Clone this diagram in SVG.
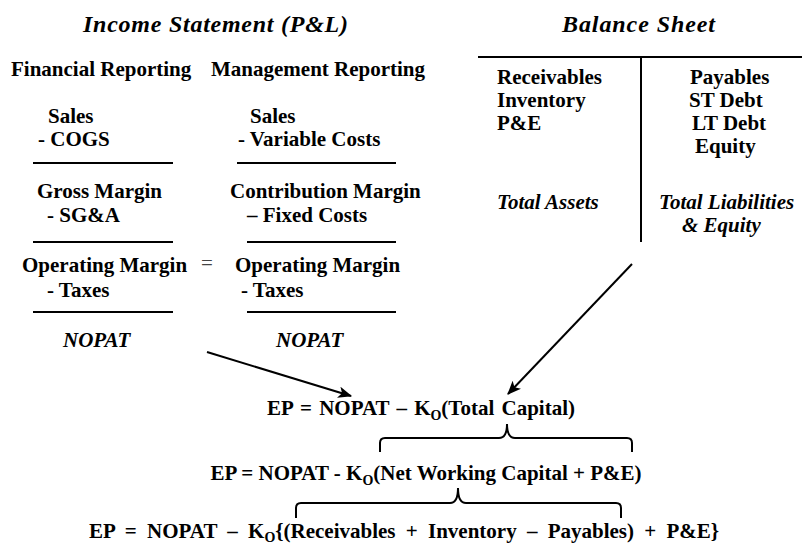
<svg xmlns="http://www.w3.org/2000/svg" width="802" height="544" viewBox="0 0 802 544">
<style>
text{font-family:"Liberation Serif","Times New Roman",serif;font-weight:bold;font-size:21px;fill:#000}
.t{font-style:italic;font-size:24px}
.i{font-style:italic}
.ln{stroke:#000;stroke-width:2;fill:none}
.ar{stroke:#000;stroke-width:2;fill:none;marker-end:url(#ah)}
.sub{font-size:14px}
</style>
<defs>
<marker id="ah" viewBox="0 0 12 10" refX="11" refY="5" markerWidth="7" markerHeight="6" orient="auto" markerUnits="strokeWidth">
<path d="M0,0 L12,5 L0,10 L3,5 Z" fill="#000"/>
</marker>
</defs>
<rect width="802" height="544" fill="#fff"/>
<g id="income-statement">
<text class="t" x="83" y="32" textLength="265" lengthAdjust="spacing">Income Statement (P&amp;L)</text>
</g>
<g id="financial-reporting">
<text x="11" y="76">Financial Reporting</text>
<text x="48" y="123">Sales</text>
<text x="38" y="146">- COGS</text>
<line class="ln" x1="33" y1="163" x2="173" y2="163"/>
<text x="37" y="198">Gross Margin</text>
<text x="47" y="222">- SG&amp;A</text>
<line class="ln" x1="33" y1="242" x2="173" y2="242"/>
<text x="22" y="272">Operating Margin</text>
<text x="47" y="297">- Taxes</text>
<line class="ln" x1="33" y1="312" x2="173" y2="312"/>
<text class="i" x="63" y="347">NOPAT</text>
</g>
<g id="equals">
<text x="207" y="270" text-anchor="middle" style="font-weight:normal;fill:#444">=</text>
</g>
<g id="management-reporting">
<text x="211" y="76">Management Reporting</text>
<text x="250" y="123">Sales</text>
<text x="238" y="146">- Variable Costs</text>
<line class="ln" x1="237" y1="163" x2="396" y2="163"/>
<text x="230" y="198">Contribution Margin</text>
<text x="247" y="222">– Fixed Costs</text>
<line class="ln" x1="247" y1="242" x2="396" y2="242"/>
<text x="235" y="272">Operating Margin</text>
<text x="241" y="297">- Taxes</text>
<line class="ln" x1="247" y1="312" x2="396" y2="312"/>
<text class="i" x="276" y="347">NOPAT</text>
</g>
<g id="balance-sheet">
<text class="t" x="562" y="32" textLength="153" lengthAdjust="spacing">Balance Sheet</text>
<line class="ln" x1="478" y1="57" x2="802" y2="57"/>
<line class="ln" x1="641" y1="57" x2="641" y2="242"/>
<text x="497" y="84">Receivables</text>
<text x="497" y="107">Inventory</text>
<text x="497" y="130">P&amp;E</text>
<text x="690" y="84">Payables</text>
<text x="689" y="107">ST Debt</text>
<text x="692" y="130">LT Debt</text>
<text x="695" y="153">Equity</text>
<text class="i" x="497" y="209">Total Assets</text>
<text class="i" x="659" y="209">Total Liabilities</text>
<text class="i" x="682" y="232">&amp; Equity</text>
</g>
<g id="ep1">
<text x="421" y="415" text-anchor="middle" word-spacing="2">EP = NOPAT – K<tspan class="sub" dy="5">O</tspan><tspan dy="-5">(Total Capital)</tspan></text>
</g>
<g id="ep2">
<text x="426" y="480" text-anchor="middle">EP = NOPAT - K<tspan class="sub" dy="5">O</tspan><tspan dy="-5">(Net Working Capital + P&amp;E)</tspan></text>
</g>
<g id="ep3">
<text x="404" y="538" text-anchor="middle" word-spacing="5">EP = NOPAT – K<tspan class="sub" dy="4">O</tspan><tspan dy="-4">{(Receivables + Inventory – Payables) + P&amp;E}</tspan></text>
</g>
<g id="connectors">
<line class="ar" x1="207" y1="352" x2="351" y2="396"/>
<line class="ar" x1="632" y1="264" x2="508" y2="394"/>
<path class="ln" d="M380,452 L380,443 Q380,438 385,438 L499,438 Q507,438 507,424 Q507,438 515,438 L627,438 Q632,438 632,443 L632,452"/>
<path class="ln" d="M296,518 L296,508 Q296,503 301,503 L450,503 Q458,503 458,488 Q458,503 466,503 L616,503 Q621,503 621,508 L621,518"/>
</g>
</svg>
